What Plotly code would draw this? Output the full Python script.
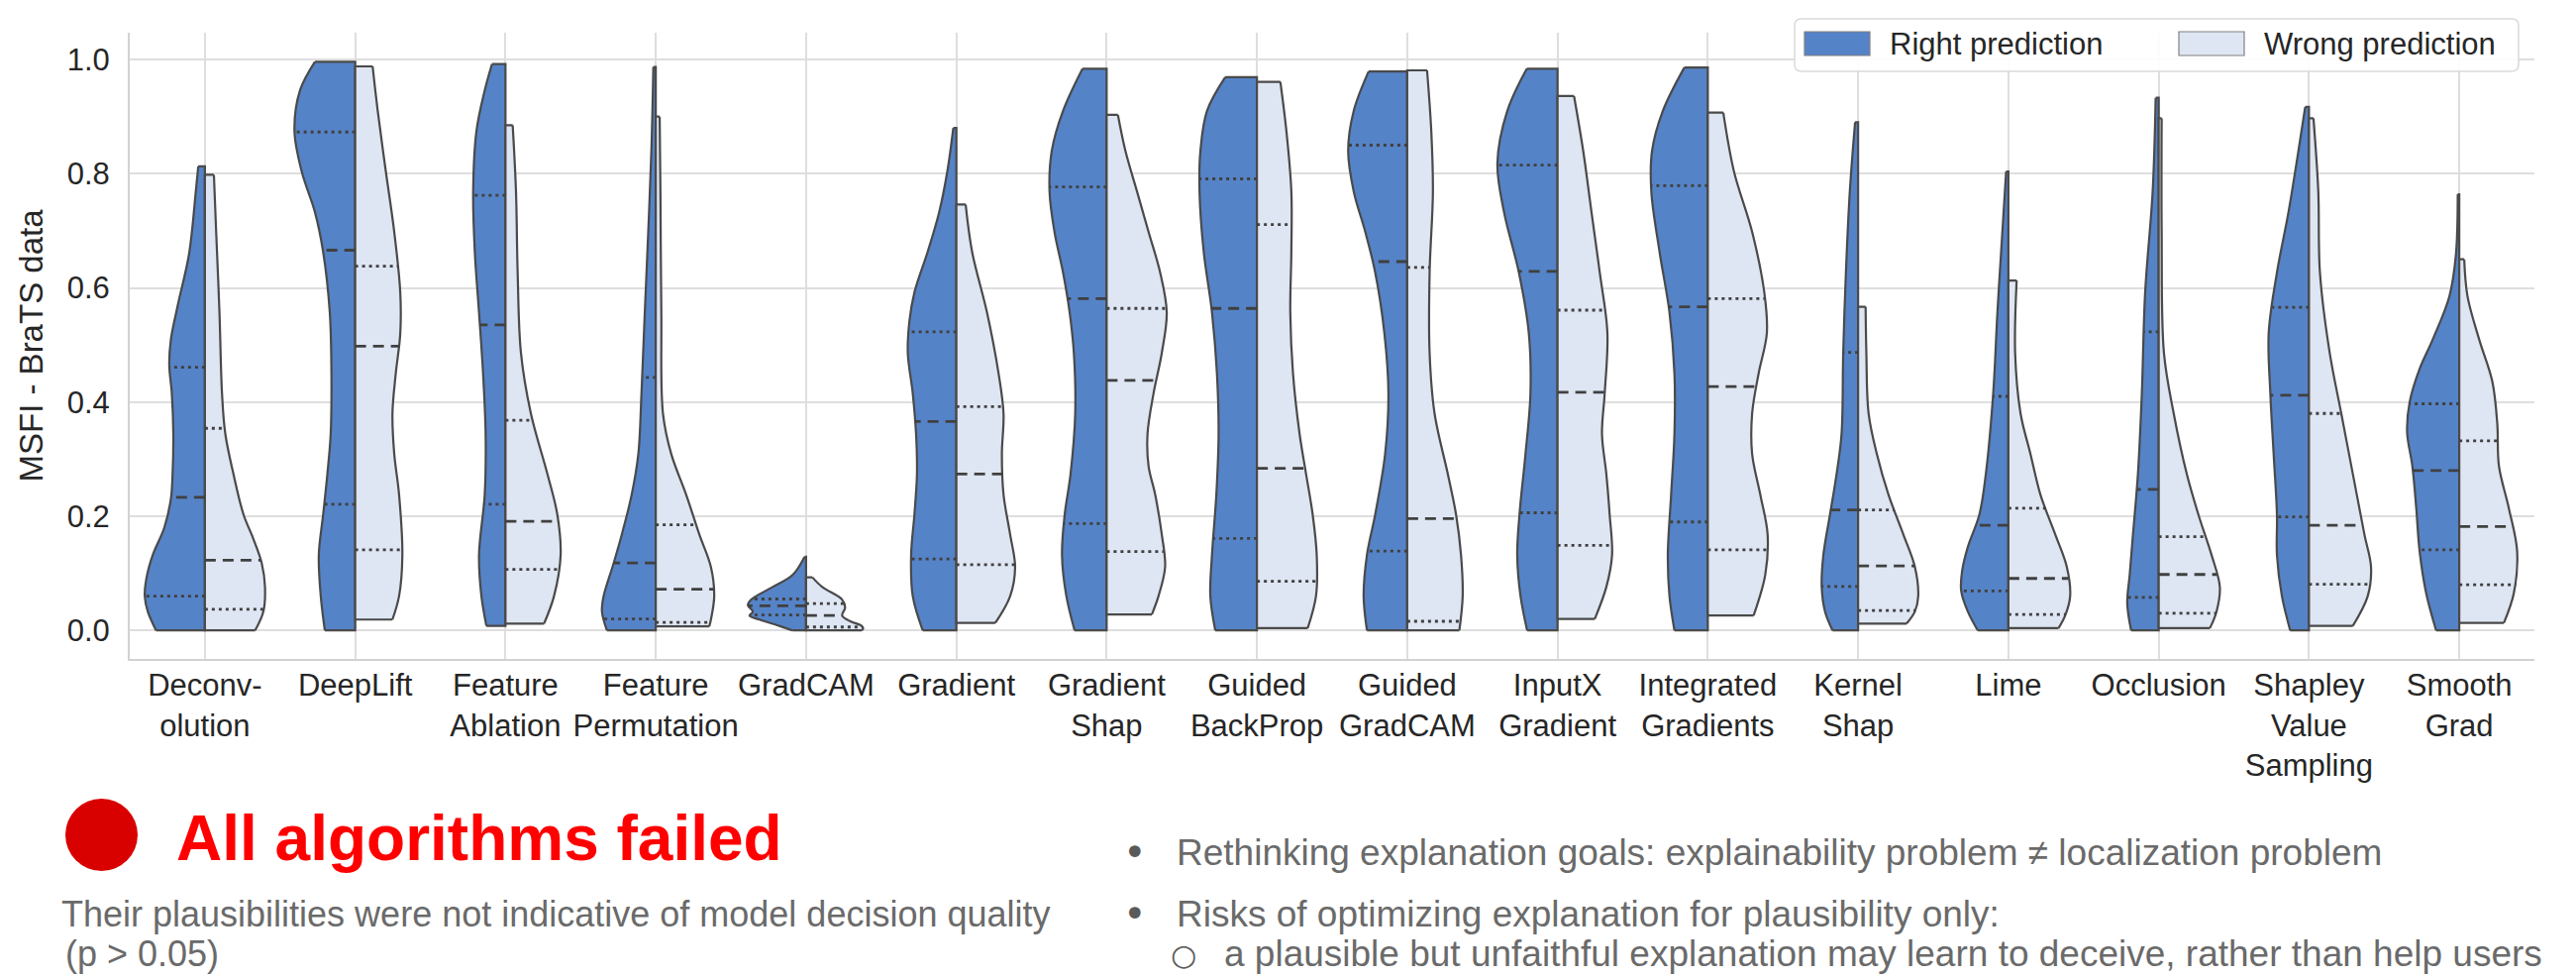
import numpy as np
import plotly.graph_objects as go

# ---------------- data ----------------
CATEGORIES = ["Deconv-<br>olution", "DeepLift", "Feature<br>Ablation", "Feature<br>Permutation",
              "GradCAM", "Gradient", "Gradient<br>Shap", "Guided<br>BackProp", "Guided<br>GradCAM",
              "InputX<br>Gradient", "Integrated<br>Gradients", "Kernel<br>Shap", "Lime", "Occlusion",
              "Shapley<br>Value<br>Sampling", "Smooth<br>Grad"]

SERIES = ["Right prediction", "Wrong prediction"]

# density profiles: (MSFI value, half width in category units)
DECONV_R = [(0.0, .325), (0.033, .38), (0.06, .40), (0.09, .39), (0.132, .347), (0.18, .27), (0.231, .226),
            (0.274, .215), (0.344, .21), (0.415, .22), (0.465, .237), (0.51, .226), (0.57, .18), (0.66, .105),
            (0.77, .06), (0.813, .044)]
DECONV_W = [(0.0, .334), (0.033, .389), (0.076, .40), (0.118, .378), (0.16, .323), (0.203, .257), (0.274, .19),
            (0.344, .136), (0.415, .114), (0.557, .097), (0.698, .075), (0.798, .06)]
DEEPLIFT_R = [(0.0, .202), (0.06, .229), (0.132, .242), (0.203, .213), (0.274, .185), (0.344, .163), (0.45, .158),
              (0.557, .169), (0.663, .213), (0.733, .268), (0.804, .356), (0.875, .404), (0.946, .367), (0.996, .268)]
DEEPLIFT_W = [(0.019, .248), (0.06, .292), (0.132, .314), (0.238, .292), (0.309, .26), (0.38, .248), (0.45, .27),
              (0.52, .30), (0.592, .30), (0.698, .26), (0.804, .204), (0.91, .15), (0.988, .116)]
FA_R = [(0.008, .127), (0.06, .16), (0.132, .176), (0.238, .138), (0.344, .132), (0.45, .149), (0.557, .176),
        (0.663, .204), (0.769, .215), (0.875, .193), (0.946, .138), (0.992, .09)]
FA_W = [(0.012, .257), (0.06, .323), (0.132, .367), (0.203, .345), (0.274, .279), (0.38, .169), (0.486, .103),
        (0.627, .081), (0.769, .07), (0.885, .048)]
FP_R = [(0.0, .325), (0.033, .358), (0.06, .347), (0.118, .28), (0.168, .226), (0.238, .16), (0.309, .116),
        (0.415, .095), (0.557, .073), (0.698, .05), (0.84, .029), (0.987, .016)]
FP_W = [(0.007, .356), (0.019, .367), (0.06, .389), (0.111, .367), (0.168, .29), (0.238, .202), (0.309, .103),
        (0.38, .048), (0.557, .037), (0.769, .031), (0.90, .026)]
GRADCAM_R = [(0.0, .09), (0.008, .178), (0.019, .31), (0.026, .376), (0.033, .354), (0.044, .387), (0.054, .365),
             (0.076, .222), (0.097, .09), (0.129, .01)]
GRADCAM_W = [(0.0, .37), (0.003, .38), (0.008, .37), (0.016, .295), (0.026, .24), (0.04, .26), (0.054, .24),
             (0.076, .108), (0.093, .042)]
GRADIENT_R = [(0.0, .224), (0.06, .29), (0.132, .301), (0.203, .279), (0.274, .262), (0.344, .268), (0.415, .29),
              (0.486, .323), (0.542, .312), (0.592, .279), (0.663, .191), (0.733, .114), (0.804, .06), (0.88, .02)]
GRADIENT_W = [(0.013, .259), (0.06, .358), (0.111, .391), (0.168, .358), (0.238, .314), (0.309, .303), (0.38, .314),
              (0.45, .281), (0.557, .204), (0.663, .105), (0.746, .062)]
GRADSHAP_R = [(0.0, .213), (0.06, .268), (0.132, .297), (0.203, .279), (0.274, .24), (0.38, .209), (0.486, .218),
              (0.557, .246), (0.627, .29), (0.698, .347), (0.769, .38), (0.84, .365), (0.91, .29), (0.984, .16)]
GRADSHAP_W = [(0.028, .301), (0.06, .345), (0.111, .389), (0.168, .367), (0.238, .323), (0.288, .279), (0.344, .272),
              (0.415, .312), (0.486, .367), (0.557, .40), (0.627, .356), (0.698, .279), (0.769, .202), (0.84, .125),
              (0.903, .075)]
GBP_R = [(0.0, .277), (0.06, .31), (0.132, .299), (0.238, .27), (0.344, .255), (0.45, .266), (0.557, .299),
         (0.663, .354), (0.769, .382), (0.84, .376), (0.91, .332), (0.969, .211)]
GBP_W = [(0.004, .338), (0.06, .393), (0.132, .398), (0.203, .371), (0.274, .327), (0.344, .284), (0.45, .24),
         (0.557, .222), (0.663, .229), (0.769, .229), (0.875, .196), (0.961, .156)]
GGC_R = [(0.0, .268), (0.06, .29), (0.132, .268), (0.203, .213), (0.309, .147), (0.415, .125), (0.521, .152),
         (0.627, .213), (0.698, .279), (0.769, .356), (0.84, .393), (0.91, .356), (0.979, .257)]
GGC_W = [(0.0, .347), (0.06, .369), (0.132, .358), (0.203, .325), (0.274, .27), (0.38, .182), (0.486, .149),
         (0.627, .149), (0.769, .171), (0.875, .16), (0.981, .132)]
INPUTX_R = [(0.0, .202), (0.06, .246), (0.132, .268), (0.203, .253), (0.309, .213), (0.415, .18), (0.521, .191),
            (0.627, .257), (0.733, .356), (0.818, .40), (0.91, .334), (0.984, .204)]
INPUTX_W = [(0.02, .248), (0.076, .325), (0.132, .363), (0.203, .347), (0.274, .325), (0.344, .296), (0.415, .314),
            (0.521, .332), (0.627, .281), (0.733, .226), (0.84, .171), (0.936, .11)]
IG_R = [(0.0, .222), (0.06, .255), (0.132, .266), (0.238, .244), (0.344, .222), (0.45, .222), (0.557, .255),
        (0.663, .321), (0.769, .376), (0.84, .371), (0.91, .299), (0.986, .156)]
IG_W = [(0.026, .305), (0.097, .382), (0.168, .398), (0.238, .349), (0.309, .295), (0.38, .295), (0.45, .338),
        (0.521, .393), (0.592, .376), (0.698, .295), (0.804, .174), (0.907, .103)]
KERNEL_R = [(0.0, .17), (0.033, .22), (0.076, .242), (0.132, .231), (0.203, .187), (0.274, .143), (0.344, .11),
            (0.486, .099), (0.627, .081), (0.769, .055), (0.89, .02)]
KERNEL_W = [(0.012, .323), (0.033, .378), (0.06, .40), (0.111, .378), (0.168, .301), (0.238, .202), (0.309, .125),
            (0.38, .07), (0.486, .055), (0.567, .05)]
LIME_R = [(0.0, .204), (0.033, .27), (0.069, .314), (0.104, .308), (0.146, .27), (0.203, .193), (0.274, .15),
          (0.415, .101), (0.557, .073), (0.698, .04), (0.804, .015)]
LIME_W = [(0.004, .334), (0.026, .378), (0.06, .411), (0.111, .389), (0.168, .312), (0.238, .213), (0.309, .147),
          (0.38, .081), (0.486, .045), (0.613, .055)]
OCCL_R = [(0.0, .183), (0.047, .209), (0.097, .193), (0.168, .171), (0.274, .138), (0.415, .112), (0.592, .09),
          (0.769, .04), (0.933, .02)]
OCCL_W = [(0.004, .341), (0.033, .385), (0.076, .407), (0.132, .352), (0.203, .264), (0.274, .187), (0.38, .10),
          (0.486, .035), (0.698, .02), (0.897, .02)]
SHAPLEY_R = [(0.0, .125), (0.06, .18), (0.132, .213), (0.203, .213), (0.309, .235), (0.415, .257), (0.521, .268),
             (0.627, .213), (0.733, .136), (0.84, .07), (0.917, .025)]
SHAPLEY_W = [(0.008, .292), (0.06, .391), (0.111, .413), (0.168, .369), (0.274, .292), (0.38, .215), (0.486, .138),
             (0.627, .073), (0.769, .062), (0.897, .03)]
SMOOTH_R = [(0.0, .154), (0.065, .22), (0.139, .264), (0.214, .286), (0.288, .312), (0.347, .347), (0.40, .33),
            (0.458, .264), (0.51, .176), (0.585, .066), (0.659, .022), (0.764, .01)]
SMOOTH_W = [(0.013, .297), (0.065, .363), (0.139, .385), (0.214, .33), (0.288, .264), (0.362, .253), (0.436, .22),
            (0.51, .132), (0.585, .055), (0.65, .033)]

RIGHT_PROFILES = [DECONV_R, DEEPLIFT_R, FA_R, FP_R, GRADCAM_R, GRADIENT_R, GRADSHAP_R, GBP_R, GGC_R,
                  INPUTX_R, IG_R, KERNEL_R, LIME_R, OCCL_R, SHAPLEY_R, SMOOTH_R]
WRONG_PROFILES = [DECONV_W, DEEPLIFT_W, FA_W, FP_W, GRADCAM_W, GRADIENT_W, GRADSHAP_W, GBP_W, GGC_W,
                  INPUTX_W, IG_W, KERNEL_W, LIME_W, OCCL_W, SHAPLEY_W, SMOOTH_W]

RIGHT_Q1 = [.06, .221, .221, .02, .027, .125, .187, .161, .139, .206, .19, .077, .069, .058, .199, .141]
RIGHT_MED = [.233, .666, .535, .118, .043, .366, .581, .564, .646, .629, .567, .211, .184, .247, .412, .28]
RIGHT_Q3 = [.461, .873, .762, .443, .055, .523, .777, .791, .85, .815, .779, .487, .41, .523, .566, .397]
WRONG_Q1 = [.037, .141, .107, .014, .006, .115, .138, .086, .016, .149, .141, .035, .028, .03, .081, .08]
WRONG_MED = [.123, .498, .191, .072, .026, .274, .438, .284, .196, .417, .427, .113, .091, .098, .184, .182]
WRONG_Q3 = [.354, .638, .368, .185, .047, .392, .564, .711, .636, .561, .581, .211, .214, .164, .38, .332]

Y_TICKS = [0.0, 0.2, 0.4, 0.6, 0.8, 1.0]

# ---------------- style ----------------
RIGHT_COLOR = "#5583C7"
WRONG_COLOR = "#DEE6F3"
EDGE = "#4A4A4A"
GRID = "#DEDEDE"
TEXT = "#262626"
FONT = "Liberation Sans, Arial, sans-serif"

W, H = 2601, 988
ML, MR, MT, MB = 131, 42, 33, 323
PW, PH = W - ML - MR, H - MT - MB


def px(x):
    return (x - ML) / PW


def py(y):
    return (H - MB - y) / PH


fig = go.Figure()


def add_half(i, prof, side, color):
    ys = np.array([p[0] for p in prof])
    ws = np.array([p[1] for p in prof])
    xs = i + side * ws
    fig.add_trace(go.Scatter(x=[i, i], y=[ys[0], ys[-1]], mode="lines",
                             line=dict(color=EDGE, width=1), hoverinfo="skip", showlegend=False))
    fig.add_trace(go.Scatter(x=xs, y=ys, mode="lines", fill="tonextx", fillcolor=color,
                             line=dict(color=EDGE, width=2.2, shape="spline", smoothing=1.0),
                             hoverinfo="skip", showlegend=False))
    fig.add_trace(go.Scatter(x=[xs[-1], i, i, xs[0]], y=[ys[-1], ys[-1], ys[0], ys[0]], mode="lines",
                             line=dict(color=EDGE, width=2.2), hoverinfo="skip", showlegend=False))


for i in range(len(CATEGORIES)):
    add_half(i, RIGHT_PROFILES[i], -1, RIGHT_COLOR)
    add_half(i, WRONG_PROFILES[i], 1, WRONG_COLOR)


def quart_lines(profiles, qs, side, dash):
    xx, yy = [], []
    for i, (prof, q) in enumerate(zip(profiles, qs)):
        ys = [p[0] for p in prof]
        ws = [p[1] for p in prof]
        w = float(np.interp(q, ys, ws))
        xx += [i, i + side * w, None]
        yy += [q, q, None]
    fig.add_trace(go.Scatter(x=xx, y=yy, mode="lines", line=dict(color="#404040", width=2.8, dash=dash),
                             hoverinfo="skip", showlegend=False))


DOT = "3px,4px"
DASH = "11px,7px"
quart_lines(RIGHT_PROFILES, RIGHT_Q1, -1, DOT)
quart_lines(RIGHT_PROFILES, RIGHT_Q3, -1, DOT)
quart_lines(RIGHT_PROFILES, RIGHT_MED, -1, DASH)
quart_lines(WRONG_PROFILES, WRONG_Q1, 1, DOT)
quart_lines(WRONG_PROFILES, WRONG_Q3, 1, DOT)
quart_lines(WRONG_PROFILES, WRONG_MED, 1, DASH)

fig.update_layout(
    width=W, height=H,
    margin=dict(l=ML, r=MR, t=MT, b=MB, autoexpand=False),
    plot_bgcolor="white", paper_bgcolor="white",
    showlegend=False,
    font=dict(family=FONT, color=TEXT, size=31),
)
fig.update_xaxes(range=[-0.5, 15.5], tickvals=list(range(len(CATEGORIES))), ticktext=CATEGORIES,
                 tickangle=0, showgrid=True, gridcolor=GRID, gridwidth=1.5, zeroline=False,
                 showline=True, linecolor="#D2D2D2", linewidth=2, ticks="",
                 tickfont=dict(size=31, color=TEXT), ticklabelstandoff=-2)
fig.update_yaxes(range=[-0.05, 1.047], tickvals=Y_TICKS, ticktext=[f"{v:.1f}" for v in Y_TICKS],
                 showgrid=True, gridcolor=GRID, gridwidth=1.5, zeroline=False,
                 showline=True, linecolor="#D2D2D2", linewidth=2, ticks="",
                 tickfont=dict(size=31, color=TEXT), ticklabelstandoff=12,
                 title=dict(text="MSFI - BraTS data", font=dict(size=33, color=TEXT), standoff=14))

# ---------------- legend (drawn) ----------------
def rrect_path(x0, y0, x1, y1, r):
    def P(x, y):
        return f"{px(x):.6f},{py(y):.6f}"
    return (f"M {P(x0 + r, y0)} L {P(x1 - r, y0)} Q {P(x1, y0)} {P(x1, y0 + r)} "
            f"L {P(x1, y1 - r)} Q {P(x1, y1)} {P(x1 - r, y1)} L {P(x0 + r, y1)} "
            f"Q {P(x0, y1)} {P(x0, y1 - r)} L {P(x0, y0 + r)} Q {P(x0, y0)} {P(x0 + r, y0)} Z")


fig.add_shape(type="path", xref="paper", yref="paper", path=rrect_path(1812, 19, 2543, 72, 7),
              fillcolor="rgba(255,255,255,0.9)", line=dict(color="#DADADA", width=1.5), layer="above")
for (x0, label, col) in [(1822, SERIES[0], RIGHT_COLOR), (2200, SERIES[1], WRONG_COLOR)]:
    fig.add_shape(type="rect", xref="paper", yref="paper", x0=px(x0), x1=px(x0 + 66), y0=py(56), y1=py(32),
                  fillcolor=col, line=dict(color="#808080", width=1.2), layer="above")
    fig.add_annotation(xref="paper", yref="paper", x=px(x0 + 84), y=py(45), text=label, showarrow=False,
                       xanchor="left", yanchor="middle", font=dict(size=31, color=TEXT, family=FONT))

# ---------------- text below the chart ----------------
fig.add_shape(type="circle", xref="paper", yref="paper", x0=px(66), x1=px(139), y0=py(879), y1=py(806),
              fillcolor="#D90000", line=dict(width=0))
fig.add_annotation(xref="paper", yref="paper", x=px(176), y=py(846), text="<b>All algorithms failed</b>",
                   showarrow=False, xanchor="left", yanchor="middle",
                   font=dict(size=64, color="#FF0000", family=FONT))
GREY = "#6A6A6A"
notes = [
    (60, 922, "Their plausibilities were not indicative of model decision quality", 36),
    (64, 962, "(p &gt; 0.05)", 36),
    (1186, 860, "Rethinking explanation goals: explainability problem ≠ localization problem", 37),
    (1186, 922, "Risks of optimizing explanation for plausibility only:", 37),
    (1234, 962, "a plausible but unfaithful explanation may learn to deceive, rather than help users", 37),
]
for x, y, t, s in notes:
    fig.add_annotation(xref="paper", yref="paper", x=px(x), y=py(y), text=t, showarrow=False,
                       xanchor="left", yanchor="middle", font=dict(size=s, color=GREY, family=FONT))
for x, y, t, s in [(1132, 860, "•", 40), (1132, 922, "•", 40), (1180, 963, "○", 30)]:
    fig.add_annotation(xref="paper", yref="paper", x=px(x), y=py(y), text=t, showarrow=False,
                       xanchor="left", yanchor="middle",
                       font=dict(size=s, color="#5A5A5A", family="DejaVu Sans, " + FONT))

fig.write_html("out.html", config={"displayModeBar": False},
               post_script="document.body.style.margin='0px';")
